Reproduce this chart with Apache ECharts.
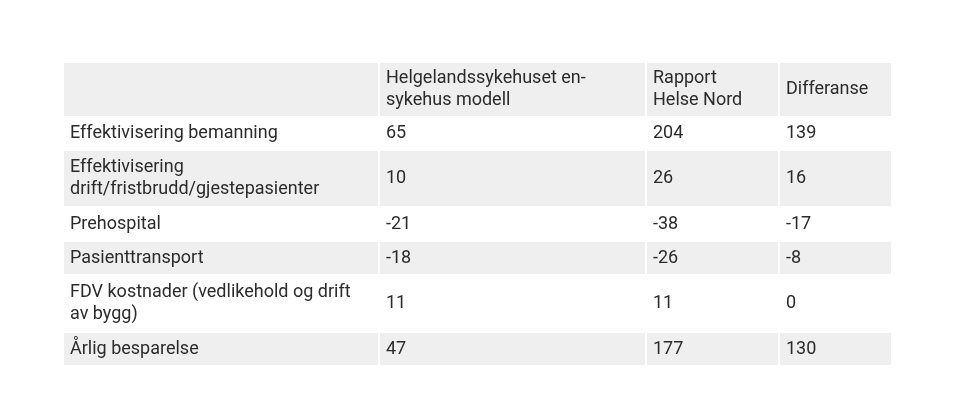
<!DOCTYPE html>
<html><head><meta charset="utf-8">
<script src="https://cdn.jsdelivr.net/npm/echarts@6/dist/echarts.min.js"></script>
<style>html,body{margin:0;background:#fff}#c{width:960px;height:414px}</style>
</head><body><div id="c"></div>
<script>
const headers = ["", "Helgelandssykehuset en-\nsykehus modell", "Rapport\nHelse Nord", "Differanse"];
const categories = ["Effektivisering bemanning", "Effektivisering\ndrift/fristbrudd/gjestepasienter", "Prehospital", "Pasienttransport", "FDV kostnader (vedlikehold og drift\nav bygg)", "Årlig besparelse"];
const helgeland = [65, 10, -21, -18, 11, 47];
const helseNord = [204, 26, -38, -26, 11, 177];
const differanse = [139, 16, -17, -8, 0, 130];

// layout (pixel units on hidden axes)
const colEdges = [63, 379, 646, 779, 892];
const rowEdges = [62, 117, 150, 207, 241, 275, 332, 366];

const cells = [];
headers.forEach((h, c) => cells.push({value: [c, 0], text: h}));
categories.forEach((cat, r) => {
  const vals = [cat, helgeland[r], helseNord[r], differanse[r]];
  vals.forEach((v, c) => cells.push({value: [c, r + 1], text: String(v)}));
});

const chart = echarts.init(document.getElementById('c'));
chart.setOption({
  animation: false,
  grid: {left: 0, right: 0, top: 0, bottom: 0},
  xAxis: {type: 'value', min: 0, max: 960, show: false},
  yAxis: {type: 'value', min: 0, max: 414, inverse: true, show: false},
  series: [{
    type: 'custom',
    data: cells,
    renderItem: function (params, api) {
      const c = api.value(0), r = api.value(1);
      const p0 = api.coord([colEdges[c], rowEdges[r]]);
      const p1 = api.coord([colEdges[c + 1], rowEdges[r + 1]]);
      const gray = (r % 2 === 0);
      const txt = cells[params.dataIndex].text;
      return {
        type: 'group',
        children: [
          {type: 'rect', shape: {x: p0[0] + 1, y: p0[1] + 1, width: p1[0] - p0[0] - 2, height: p1[1] - p0[1] - 2},
           style: {fill: gray ? '#efefef' : '#ffffff'}},
          {type: 'text', x: p0[0] + 7, y: (p0[1] + p1[1]) / 2,
           style: {text: txt, fill: '#2b2b2b', font: '18px Roboto', textVerticalAlign: 'middle', textAlign: 'left', lineHeight: 22}}
        ]
      };
    }
  }]
});
</script></body></html>
